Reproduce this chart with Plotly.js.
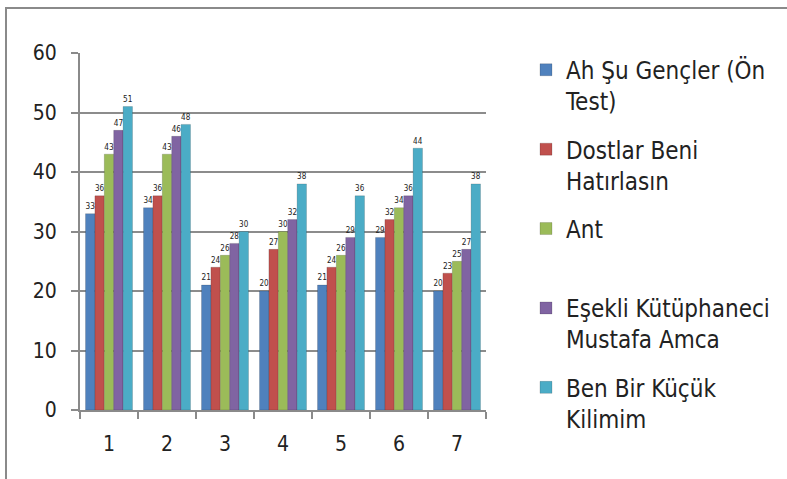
<!DOCTYPE html>
<html>
<head>
<meta charset="utf-8">
<script src="https://cdn.plot.ly/plotly-3.0.1.min.js"></script>
<style>
  html, body { margin:0; padding:0; background:#fff; }
  #frame { position:absolute; left:5px; top:7px; width:782px; height:472px; border-left:2px solid #8a8a8a; border-top:2px solid #8a8a8a; box-sizing:border-box; }
  #chart { position:absolute; left:0; top:0; width:787px; height:479px; }
</style>
</head>
<body>
<div id="frame"></div>
<div id="chart"></div>
<script>
const categories = ["1", "2", "3", "4", "5", "6", "7"];
const seriesNames = ["Ah Şu Gençler (Ön<br>Test)", "Dostlar Beni<br>Hatırlasın", "Ant<br>&nbsp;", "Eşekli Kütüphaneci<br>Mustafa Amca", "Ben Bir Küçük<br>Kilimim"];
const ahSuGencler = [33, 34, 21, 20, 21, 29, 20];
const dostlarBeni = [36, 36, 24, 27, 24, 32, 23];
const ant = [43, 43, 26, 30, 26, 34, 25];
const esekliKutuphaneci = [47, 46, 28, 32, 29, 36, 27];
const benBirKucuk = [51, 48, 30, 38, 36, 44, 38];
const yTicks = [0, 10, 20, 30, 40, 50, 60];

const colors = ["#4F81BD", "#C0504D", "#9BBB59", "#8064A2", "#4BACC6"];
const allSeries = [ahSuGencler, dostlarBeni, ant, esekliKutuphaneci, benBirKucuk];
const FONT = "'DejaVu Sans Condensed', 'DejaVu Sans', sans-serif";

const traces = allSeries.map((vals, i) => ({
  type: "bar",
  x: categories,
  y: vals,
  name: seriesNames[i],
  legendgroup: "g" + i,
  marker: { color: colors[i], line: { color: "rgba(0,0,0,0.15)", width: 1 } },
  text: vals.map(String),
  textposition: "outside",
  textfont: { family: FONT, size: 10, color: "#222" },
  cliponaxis: false,
  hoverinfo: "x+y+name"
}));

const layout = {
  width: 787,
  height: 479,
  paper_bgcolor: "rgba(0,0,0,0)",
  plot_bgcolor: "rgba(0,0,0,0)",
  margin: { l: 80, r: 301, t: 53, b: 69 },
  barmode: "group",
  bargap: 0.19,
  bargroupgap: 0,
  font: { family: FONT, color: "#222" },
  xaxis: {
    type: "category",
    tickfont: { size: 21, color: "#222" },
    ticks: "outside",
    tickson: "boundaries",
    ticklen: 7,
    tickcolor: "#8a8a8a",
    tickwidth: 2,
    showline: true,
    linecolor: "#8a8a8a",
    linewidth: 2,
    showgrid: false,
    ticklabelstandoff: 14
  },
  yaxis: {
    range: [0, 60],
    tickvals: yTicks,
    ticktext: yTicks.map(String),
    tickfont: { size: 21, color: "#222" },
    ticks: "outside",
    ticklen: 7,
    tickcolor: "#8a8a8a",
    tickwidth: 2,
    showline: true,
    linecolor: "#8a8a8a",
    linewidth: 2,
    showgrid: true,
    gridcolor: "#8c8c8c",
    gridwidth: 2,
    zeroline: false,
    ticklabelstandoff: 10
  },
  legend: {
    x: 1.0985,
    y: 1.015,
    xanchor: "left",
    yanchor: "top",
    font: { size: 24, color: "#222" },
    tracegroupgap: 14,
    valign: "top",
    itemwidth: 30,
    maxheight: 470,
    bgcolor: "rgba(0,0,0,0)"
  },
  showlegend: true
};

Plotly.newPlot("chart", traces, layout, { displayModeBar: false, staticPlot: true });
</script>
</body>
</html>
